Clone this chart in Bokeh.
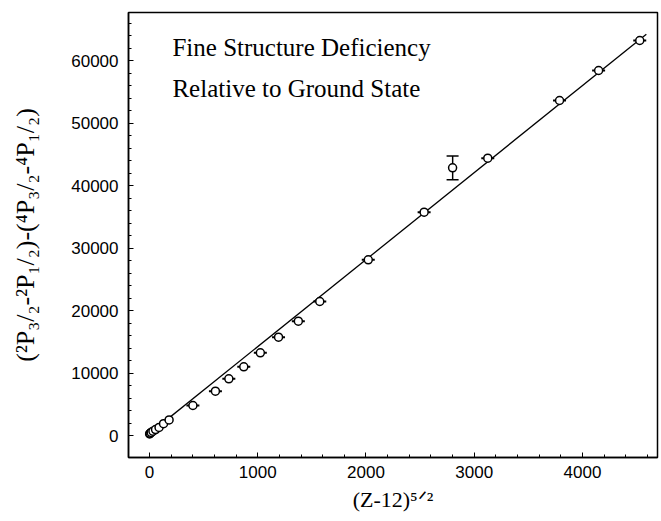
from bokeh.plotting import figure
from bokeh.models import Range1d, Whisker, ColumnDataSource, Label, FixedTicker
from bokeh.embed import file_html
from bokeh.resources import INLINE

# data
x_vals = [1, 5.7, 15.6, 32, 55.9, 88.2, 129.6, 181, 401, 609, 733, 871, 1024, 1192,
          1375, 1573, 2021, 2537, 2800, 3125, 3788, 4149, 4529]
y_vals = [250, 350, 500, 700, 950, 1300, 1900, 2500, 4800, 7090, 9070, 10990, 13230, 15730,
          18290, 21440, 28110, 35730, 42830, 44370, 53600, 58400, 63200]
y_err = [150, 150, 150, 150, 150, 150, 150, 150, 250, 250, 250, 250, 250, 300,
         300, 300, 300, 300, 1900, 300, 300, 300, 300]
x_err = [20, 20, 20, 20, 20, 20, 20, 20, 60, 60, 60, 60, 60, 60,
         60, 60, 60, 60, 30, 60, 60, 60, 60]
fit_x = [0, 4590]
fit_y = [300, 64200]
x_ticks = [0, 1000, 2000, 3000, 4000]
y_ticks = [0, 10000, 20000, 30000, 40000, 50000, 60000]
notes = ["Fine Structure Deficiency", "Relative to Ground State"]

p = figure(width=661, height=521, output_backend="svg", toolbar_location=None,
           x_range=Range1d(-194, 4693), y_range=Range1d(-3520, 67680),
           min_border_left=128, min_border_right=4, min_border_top=12, min_border_bottom=64)
p.xgrid.visible = False
p.ygrid.visible = False
p.background_fill_color = "white"
p.border_fill_color = "white"
p.outline_line_color = "black"
p.outline_line_width = 1.5

serif = "Liberation Serif"
for ax in (p.xaxis[0], p.yaxis[0]):
    ax.major_tick_in = 5
    ax.major_tick_out = 0
    ax.minor_tick_in = 3
    ax.minor_tick_out = 0
    ax.axis_line_color = "black"
    ax.axis_line_width = 1.5
    ax.major_label_text_font = "Liberation Sans"
    ax.major_label_text_font_size = "17px"
    ax.major_label_text_color = "black"
    ax.axis_label_text_font = serif
    ax.axis_label_text_font_style = "normal"
    ax.axis_label_text_color = "black"

p.xaxis.axis_label_text_font_size = "22px"
p.yaxis.axis_label_text_font_size = "26px"
p.xaxis.ticker = FixedTicker(ticks=x_ticks, minor_ticks=list(range(0, 4700, 200)))
p.yaxis.ticker = FixedTicker(ticks=y_ticks, minor_ticks=list(range(0, 67000, 2000)))
p.xaxis.major_label_standoff = 8
p.yaxis.major_label_standoff = 10
p.xaxis.axis_label = "(Z-12)\u2075\u141f\u00b2"
p.yaxis.axis_label = "(\u00b2P\u2083/\u2082-\u00b2P\u2081/\u2082)-(\u2074P\u2083/\u2082-\u2074P\u2081/\u2082)"
p.xaxis.axis_label_standoff = 6
p.yaxis.axis_label_standoff = 28

p.line(fit_x, fit_y, line_color="black", line_width=1.3)

src = ColumnDataSource(dict(
    x=x_vals, y=y_vals,
    ylo=[y - e for y, e in zip(y_vals, y_err)], yhi=[y + e for y, e in zip(y_vals, y_err)],
    xlo=[x - e for x, e in zip(x_vals, x_err)], xhi=[x + e for x, e in zip(x_vals, x_err)],
))
p.add_layout(Whisker(source=src, base="x", lower="ylo", upper="yhi", dimension="height",
                     line_color="black", line_width=1.3,
                     upper_head=None, lower_head=None))
p.add_layout(Whisker(source=src, base="y", lower="xlo", upper="xhi", dimension="width",
                     line_color="black", line_width=2,
                     upper_head=None, lower_head=None))
p.scatter("x", "y", source=src, marker="circle", size=8, fill_color="white",
          line_color="black", line_width=1.5)

big = ColumnDataSource(dict(x=[x_vals[18]], lo=[y_vals[18] - y_err[18]], hi=[y_vals[18] + y_err[18]]))
w = Whisker(source=big, base="x", lower="lo", upper="hi", dimension="height",
            line_color="black", line_width=1.2)
w.upper_head.size = 12
w.lower_head.size = 12
w.upper_head.line_width = 1.5
w.lower_head.line_width = 1.5
p.add_layout(w)

for txt, yy in zip(notes, [62080, 55520]):
    p.add_layout(Label(x=212, y=yy, text=txt,
                       text_font=serif, text_font_size="25px", text_color="black",
                       text_baseline="middle"))

open("out.html", "w").write(file_html(p, INLINE))
